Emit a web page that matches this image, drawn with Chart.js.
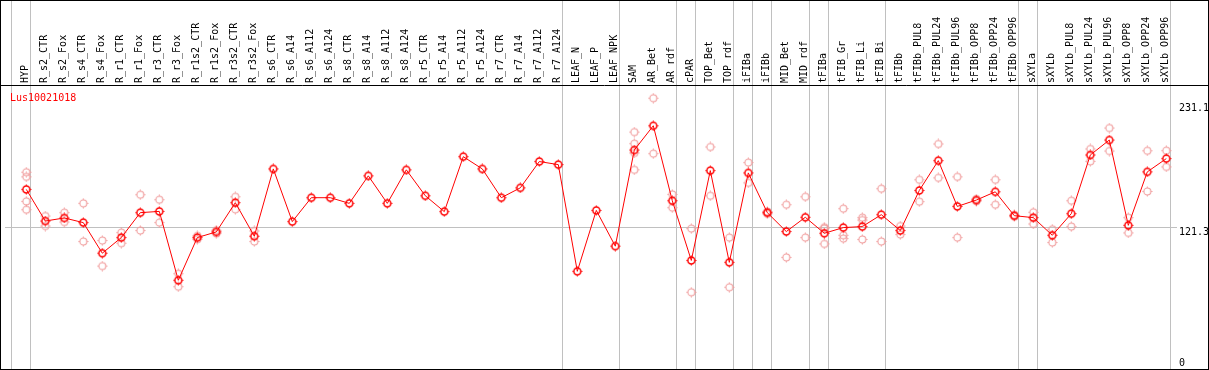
<!DOCTYPE html>
<html>
<head>
<meta charset="utf-8">
<script src="https://cdn.jsdelivr.net/npm/chart.js@4.4.0/dist/chart.umd.min.js"></script>
<style>
html,body{margin:0;padding:0;background:#fff;}
canvas{display:block;}
</style>
</head>
<body>
<canvas id="c" width="1209" height="370"></canvas>
<script>
const chartTitle = "Lus10021018";
const categories = ["HYP","R_s2_CTR","R_s2_Fox","R_s4_CTR","R_s4_Fox","R_r1_CTR","R_r1_Fox","R_r3_CTR","R_r3_Fox","R_r1s2_CTR","R_r1s2_Fox","R_r3s2_CTR","R_r3s2_Fox","R_s6_CTR","R_s6_A14","R_s6_A112","R_s6_A124","R_s8_CTR","R_s8_A14","R_s8_A112","R_s8_A124","R_r5_CTR","R_r5_A14","R_r5_A112","R_r5_A124","R_r7_CTR","R_r7_A14","R_r7_A112","R_r7_A124","LEAF_N","LEAF_P","LEAF_NPK","SAM","AR_Bet","AR_rdf","cPAR","TOP_Bet","TOP_rdf","iFIBa","iFIBb","MID_Bet","MID_rdf","tFIBa","tFIB_Gr","tFIB_Li","tFIB_Bi","tFIBb","tFIBb_PUL8","tFIBb_PUL24","tFIBb_PUL96","tFIBb_OPP8","tFIBb_OPP24","tFIBb_OPP96","sXYLa","sXYLb","sXYLb_PUL8","sXYLb_PUL24","sXYLb_PUL96","sXYLb_OPP8","sXYLb_OPP24","sXYLb_OPP96"];
const means = [155.0,127.1,129.8,125.7,98.7,112.5,134.5,135.6,74.8,112.5,117.5,143.3,113.7,173.1,126.6,147.7,147.7,142.7,167.0,142.7,172.3,149.4,135.4,183.9,173.1,147.7,156.4,179.6,176.9,82.7,136.5,104.9,189.8,211.2,145.0,92.3,171.6,90.6,169.6,134.5,117.8,130.4,116.3,121.3,122.2,132.7,118.7,154.1,180.4,140.0,145.6,152.9,131.8,130.1,114.5,133.6,185.4,198.6,123.3,170.5,182.2];
const replicates = [
  [170.2,166.1,144.4,137.1],[131.5,122.7],[134.5,126.2],[142.7,109.0],[109.9,87.3],
  [116.9,107.5],[150.3,118.7],[145.9,125.7],[80.6,69.1],[114.0,111.0],
  [119.0,116.0],[148.5,137.4],[118.3,109.0],[],[],
  [],[],[],[],[],
  [],[],[],[],[],
  [],[],[],[],[],
  [],[],[205.6,195.4,187.2,172.3],[235.5,186.6],[150.6,138.9],
  [120.4,64.2],[192.5,149.4],[112.5,68.6],[178.7,160.8],[135.5,133.5],
  [141.5,95.0],[148.5,112.5],[121.6,120.5,106.9],[138.0,114.5,111.6],[130.1,128.0,110.8],
  [155.6,109.0],[122.7,115.2],[163.5,144.2],[195.1,165.2],[166.1,112.5],
  [146.5,144.6],[163.5,141.5],[132.5,131.0],[134.8,124.5],[119.8,108.1],
  [145.0,122.2],[190.7,179.8],[209.2,188.9],[130.1,116.6],[189.1,153.2],
  [189.2,174.9]
];
const yTickValues = [0, 121.3, 231.1];
const yTickLabels = ["0", "121.3", "231.1"];
const referenceLineValue = 121.3;
const groupBoundaries = [-1,0,28,31,34,35,37,38,39,41,42,45,52,53,60];

// layout constants (pixel placement of the category axis)
const FIRST_CATEGORY_PX = 26.3;
const CATEGORY_STEP_PX = 19;

const FONT = "10px 'DejaVu Sans Mono', monospace";

function makeMarker(color, lw, r) {
  const c = document.createElement('canvas');
  c.width = 11; c.height = 11;
  const g = c.getContext('2d');
  g.strokeStyle = color; g.lineWidth = lw;
  g.beginPath(); g.arc(5.5, 5.5, r, 0, Math.PI * 2); g.stroke();
  g.lineWidth = 1;
  g.beginPath();
  g.moveTo(5.5, 0.5); g.lineTo(5.5, 1.8);
  g.moveTo(5.5, 9.2); g.lineTo(5.5, 10.5);
  g.moveTo(0.5, 5.5); g.lineTo(1.8, 5.5);
  g.moveTo(9.2, 5.5); g.lineTo(10.5, 5.5);
  g.stroke();
  return c;
}
const meanMarker = makeMarker('#ff0000', 1.5, 3.5);
const repMarker = makeMarker('#f09a9a', 1.1, 3.5);

const meanData = means.map((v, i) => ({x: i, y: v}));
const repData = [];
replicates.forEach((arr, i) => arr.forEach(v => repData.push({x: i, y: v})));

const decorPlugin = {
  id: 'decor',
  beforeDatasetsDraw(chart) {
    const ctx = chart.ctx, xs = chart.scales.x;
    ctx.save();
    ctx.strokeStyle = '#c0c0c0';
    ctx.lineWidth = 1;
    groupBoundaries.forEach(b => {
      const x = Math.round(xs.getPixelForValue(b) + 4) + 0.5;
      ctx.beginPath(); ctx.moveTo(x, 0); ctx.lineTo(x, chart.height); ctx.stroke();
    });
    ctx.restore();
  },
  afterDraw(chart) {
    const ctx = chart.ctx, ys = chart.scales.y, ca = chart.chartArea;
    ctx.save();
    ctx.font = FONT;
    ctx.fillStyle = '#000';
    ctx.textAlign = 'left';
    ctx.textBaseline = 'top';
    yTickValues.forEach((v, i) => {
      let y = ys.getPixelForValue(v);
      if (y + 9 > chart.height - 3) y = chart.height - 12;
      ctx.fillText(yTickLabels[i], ca.right + 2, y);
    });
    ctx.fillStyle = '#ff0000';
    ctx.fillText(chartTitle, 10, ca.top + 7);
    ctx.strokeStyle = '#000';
    ctx.lineWidth = 1;
    ctx.strokeRect(0.5, 0.5, chart.width - 1, chart.height - 1);
    ctx.beginPath();
    ctx.moveTo(0, Math.round(ca.top) - 0.5);
    ctx.lineTo(chart.width, Math.round(ca.top) - 0.5);
    ctx.stroke();
    ctx.restore();
  }
};

const chart = new Chart(document.getElementById('c'), {
  type: 'line',
  data: {
    datasets: [
      {
        label: 'mean',
        data: meanData,
        borderColor: '#ff0000',
        borderWidth: 1,
        pointStyle: meanMarker,
        pointRadius: 4,
        tension: 0,
        fill: false
      },
      {
        label: 'replicates',
        data: repData,
        showLine: false,
        borderColor: '#f09a9a',
        pointStyle: repMarker,
        pointRadius: 4
      }
    ]
  },
  options: {
    responsive: false,
    animation: false,
    devicePixelRatio: 1,
    layout: {padding: {left: 2, right: 0, top: 0, bottom: 3.6}},
    plugins: {legend: {display: false}, tooltip: {enabled: false}, title: {display: false}},
    scales: {
      x: {
        type: 'linear',
        position: 'top',
        min: -1.2789,
        max: 60.563,
        afterBuildTicks: (s) => { s.ticks = categories.map((c, i) => ({value: i})); },
        afterFit: (s) => { s.height = 86; },
        grid: {display: false, drawTicks: false},
        border: {display: false},
        ticks: {
          autoSkip: false,
          minRotation: 90,
          maxRotation: 90,
          padding: 3,
          labelOffset: 11,
          color: '#000',
          font: {family: "'DejaVu Sans Mono', monospace", size: 10},
          callback: (v) => categories[v]
        }
      },
      y: {
        type: 'linear',
        position: 'right',
        min: 0,
        max: 246.3,
        afterBuildTicks: (s) => { s.ticks = yTickValues.map(v => ({value: v})); },
        afterFit: (s) => { s.width = 32; },
        grid: {
          drawTicks: false,
          color: (ctx) => (ctx.tick && ctx.tick.value === referenceLineValue) ? '#c0c0c0' : 'rgba(0,0,0,0)',
          lineWidth: 1
        },
        border: {display: false},
        ticks: {display: false}
      }
    }
  },
  plugins: [decorPlugin]
});

// Fit the category axis range to the actual plot area so categories are 19px apart.
(function () {
  const ca = chart.chartArea;
  const xmin = -(FIRST_CATEGORY_PX - ca.left) / CATEGORY_STEP_PX;
  const xmax = xmin + (ca.right - ca.left) / CATEGORY_STEP_PX;
  chart.options.scales.x.min = xmin;
  chart.options.scales.x.max = xmax;
  chart.update('none');
})();
</script>
</body>
</html>
